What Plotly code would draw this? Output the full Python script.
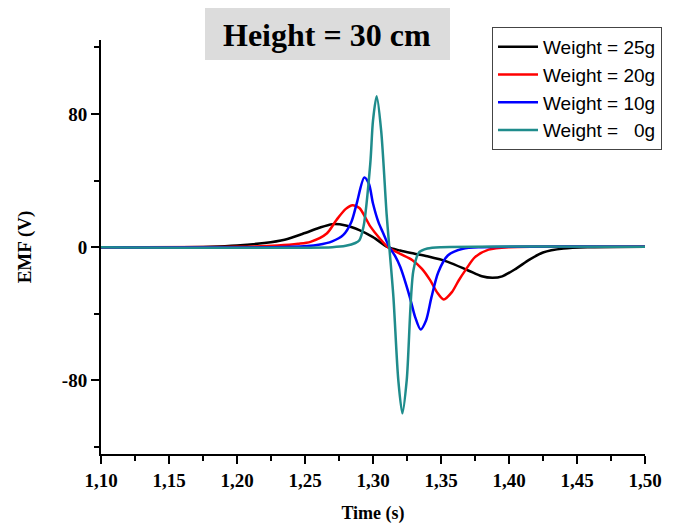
import plotly.graph_objects as go

# ---- data ----
t_25 = [1.10, 1.15, 1.18, 1.20, 1.22, 1.235, 1.25, 1.26, 1.27, 1.28, 1.29, 1.30, 1.311, 1.32, 1.33, 1.34,
        1.355, 1.37, 1.38, 1.388, 1.395, 1.405, 1.415, 1.425, 1.44, 1.46, 1.50]
v_25 = [0, 0, 0.3, 1.0, 2.5, 4.5, 8.5, 11.5, 13.8, 13.0, 10.2, 6.0, 0, -2.0, -3.8, -5.5,
        -8.8, -14.0, -17.5, -18.4, -17.5, -13.0, -7.5, -3.2, -0.8, 0, 0.3]

t_20 = [1.10, 1.20, 1.23, 1.245, 1.254, 1.266, 1.273, 1.28, 1.285, 1.29, 1.298, 1.305, 1.311, 1.32, 1.329,
        1.336, 1.342, 1.347, 1.352, 1.358, 1.363, 1.368, 1.375, 1.385, 1.40, 1.50]
v_20 = [0, 0.2, 1.0, 2.0, 3.2, 8.2, 16.2, 23.0, 25.2, 23.5, 12.5, 5.2, 0, -4.0, -7.8,
        -13.0, -19.8, -27.0, -31.4, -27.0, -20.0, -13.8, -6.0, -1.5, 0, 0.3]

t_10 = [1.10, 1.24, 1.26, 1.27, 1.278, 1.284, 1.288, 1.2936, 1.297, 1.300, 1.304, 1.3076, 1.312, 1.316, 1.320,
        1.327, 1.331, 1.335, 1.339, 1.343, 1.348, 1.355, 1.366, 1.38, 1.50]
v_10 = [0, 0.2, 1.5, 3.5, 7.2, 15.0, 26.2, 41.8, 38.0, 26.2, 15.0, 8.2, 0, -5.0, -11.8,
        -29.8, -42.0, -49.4, -44.0, -30.0, -15.0, -5.0, -1.0, 0, 0.3]

t_0 = [1.10, 1.27, 1.28, 1.287, 1.290, 1.293, 1.298, 1.300, 1.3027, 1.306, 1.310, 1.312, 1.315, 1.3186,
       1.3216, 1.3248, 1.3297, 1.334, 1.340, 1.35, 1.50]
v_0 = [0, 0, 0.8, 2.5, 4.2, 12.2, 50.2, 76.0, 90.6, 70.0, 20.0, 0, -29.8, -79.8,
       -99.8, -79.8, -14.0, -3.0, -0.8, 0, 0.3]

series_names = ["Weight = 25g", "Weight = 20g", "Weight = 10g", "Weight = \u00a0\u00a00g"]
x_tickvals = [1.10, 1.15, 1.20, 1.25, 1.30, 1.35, 1.40, 1.45, 1.50]
x_ticktext = ["1,10", "1,15", "1,20", "1,25", "1,30", "1,35", "1,40", "1,45", "1,50"]
y_tickvals = [-80, 0, 80]
y_ticktext = ["-80", "0", "80"]
title_text = "Height = 30 cm"

# ---- styling ----
OFF = 8  # page body margin offset
W, H = 674 - OFF, 524 - OFF
L, R, T, B = 101 - OFF, 29, 40 - OFF, 70
colors = ["#000000", "#ff0000", "#0000ff", "#1f8c8c"]
serif = "Liberation Serif"

def px_to_paper_x(px):
    return (px - OFF - L) / (W - L - R)

def px_to_paper_y(py):
    return (H - B - (py - OFF)) / (H - T - B)

fig = go.Figure()
for t, v, name, c in zip([t_25, t_20, t_10, t_0], [v_25, v_20, v_10, v_0], series_names, colors):
    fig.add_trace(go.Scatter(x=t, y=v, mode="lines", name=name,
                             line=dict(color=c, width=2.5, shape="spline", smoothing=0.8)))

axis_common = dict(showline=True, linecolor="black", linewidth=2, ticks="outside",
                   tickcolor="black", tickwidth=2, ticklen=8, showgrid=False, zeroline=False,
                   tickfont=dict(family=serif, size=19, color="black"), automargin=False)

fig.update_layout(
    width=W, height=H,
    margin=dict(l=L, r=R, t=T, b=B, autoexpand=False),
    paper_bgcolor="white", plot_bgcolor="white",
    xaxis=dict(range=[1.10, 1.50], tickvals=x_tickvals, ticktext=["<b>%s</b>" % s for s in x_ticktext],
               minor=dict(tickvals=[1.125, 1.175, 1.225, 1.275, 1.325, 1.375, 1.425, 1.475],
                          ticks="outside", ticklen=5, tickwidth=2, tickcolor="black"),
               title=dict(text="<b>Time (s)</b>", font=dict(family=serif, size=18, color="black"),
                          standoff=17),
               **axis_common),
    yaxis=dict(range=[-124.2, 124.4], tickvals=y_tickvals, ticktext=["<b>%s</b>" % s for s in y_ticktext],
               minor=dict(tickvals=[-120, -40, 40, 120],
                          ticks="outside", ticklen=5, tickwidth=2, tickcolor="black"),
               title=dict(text="<b>EMF (V)</b>", font=dict(family=serif, size=19, color="black"),
                          standoff=25),
               **axis_common),
    legend=dict(x=px_to_paper_x(492), y=px_to_paper_y(27), xanchor="left", yanchor="top",
                bgcolor="white", bordercolor="#444444", borderwidth=1,
                font=dict(family="Liberation Sans", size=19, color="black"),
                tracegroupgap=0, itemwidth=40),
    showlegend=True,
)

fig.add_shape(type="rect", xref="paper", yref="paper",
              x0=px_to_paper_x(205), x1=px_to_paper_x(450),
              y0=px_to_paper_y(60), y1=px_to_paper_y(8),
              fillcolor="#dcdcdc", line=dict(width=0), layer="below")
fig.add_annotation(text="<b>" + title_text + "</b>", xref="paper", yref="paper",
                   x=px_to_paper_x(327), y=px_to_paper_y(35), xanchor="center", yanchor="middle",
                   showarrow=False, font=dict(family=serif, size=32, color="black"))

fig.write_html("out.html")
